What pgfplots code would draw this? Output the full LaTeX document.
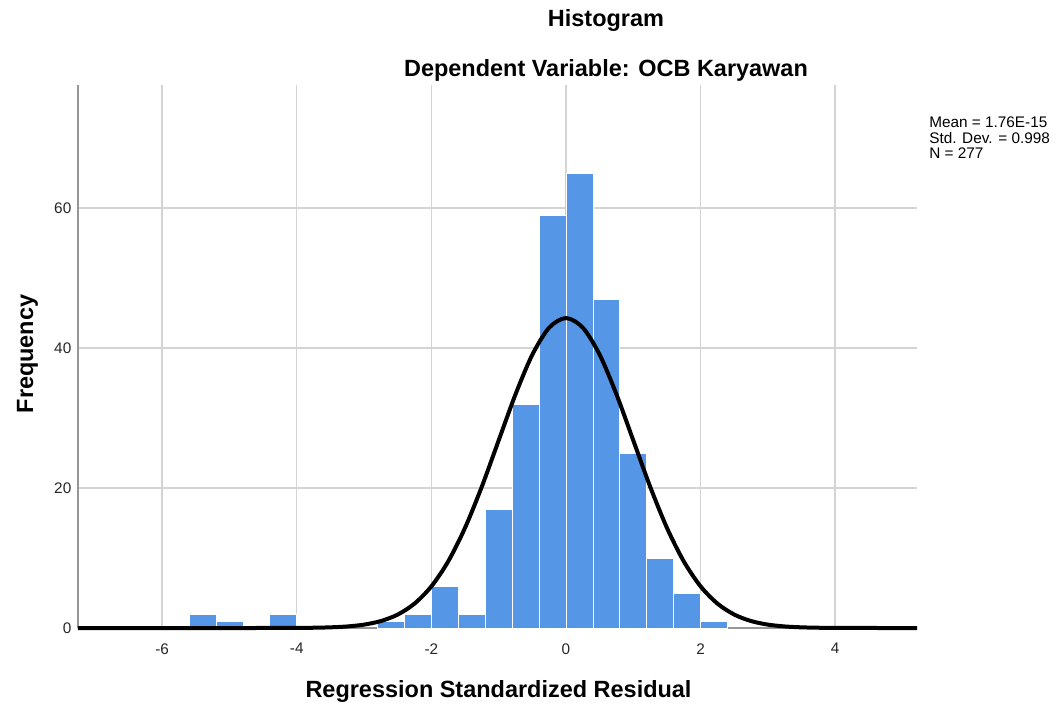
\documentclass[border=0pt]{standalone}
\usepackage{pgfplots}
\pgfplotsset{compat=1.18}
\usepackage{fontspec}
\setmainfont{Liberation Sans}
\definecolor{barblue}{RGB}{86,150,230}
\definecolor{gridgray}{RGB}{212,212,212}
\definecolor{axisgray}{RGB}{150,150,150}
\begin{document}
\begin{tikzpicture}
\useasboundingbox (0,0) rectangle (796.5pt,530.25pt);
\begin{axis}[
  at={(58.5pt,59.25pt)}, anchor=south west,
  scale only axis, width=629.25pt, height=407.25pt,
  xmin=-7.25, xmax=5.215, ymin=0, ymax=77.6,
  axis x line*=bottom, axis y line*=left,
  axis line style={axisgray, line width=1.5pt, -},
  xtick={-6,-4,-2,0,2,4}, ytick={0,20,40,60},
  major tick length=0pt,
  grid=major, major grid style={gridgray, line width=1.1pt},
  ticklabel style={font=\fontsize{11.5}{13}\selectfont, text=black!85},
  /pgf/number format/assume math mode=true,
  xticklabel style={yshift=-8pt},
  yticklabel style={xshift=-1.5pt},
  clip=false,
]
\addplot[ybar, bar width=0.4, bar shift=0pt, fill=barblue, draw=white, line width=0.6pt] coordinates {
(-5.4,2) (-5.0,1) (-4.2,2) (-2.6,1) (-2.2,2) (-1.8,6) (-1.4,2) (-1.0,17) (-0.6,32) (-0.2,59)
(0.2,65) (0.6,47) (1.0,25) (1.4,10) (1.8,5) (2.2,1)
};
\addplot[black, line width=3pt, smooth] coordinates {
(-7.25,0) (-6,0) (-5,0) (-4.5,0.0017) (-4,0.0144) (-3.75,0.0381) (-3.5,0.0946) (-3.25,0.2206)
(-3,0.483) (-2.75,0.994) (-2.5,1.92) (-2.25,3.49) (-2,5.95) (-1.75,9.52) (-1.5,14.31)
(-1.25,20.21) (-1,26.81) (-0.75,33.39) (-0.5,39.06) (-0.25,42.92) (0,44.29)
(0.25,42.92) (0.5,39.06) (0.75,33.39) (1,26.81) (1.25,20.21) (1.5,14.31) (1.75,9.52)
(2,5.95) (2.25,3.49) (2.5,1.92) (2.75,0.994) (3,0.483) (3.25,0.2206) (3.5,0.0946)
(3.75,0.0381) (4,0.0144) (4.5,0.0017) (5,0) (5.215,0)
};
\end{axis}
\node[anchor=base, font=\bfseries\fontsize{17.6}{20}\selectfont] at (454.5pt,510pt) {Histogram};
\node[anchor=base, font=\bfseries\fontsize{17.6}{20}\selectfont] at (454.5pt,472.5pt) {Dependent Variable: OCB Karyawan};
\node[anchor=base, font=\bfseries\fontsize{17.6}{20}\selectfont] at (373.9pt,7.5pt) {Regression Standardized Residual};
\node[anchor=base, rotate=90, font=\bfseries\fontsize{17.6}{20}\selectfont] at (24.75pt,264.75pt) {Frequency};
\node[anchor=base west, inner sep=0pt, font=\fontsize{11.5}{13}\selectfont] at (696.75pt,434.25pt) {Mean = 1.76E-15};
\node[anchor=base west, inner sep=0pt, font=\fontsize{11.5}{13}\selectfont] at (696.75pt,422.6pt) {Std. Dev. = 0.998};
\node[anchor=base west, inner sep=0pt, font=\fontsize{11.5}{13}\selectfont] at (696.75pt,411pt) {N = 277};
\end{tikzpicture}
\end{document}
